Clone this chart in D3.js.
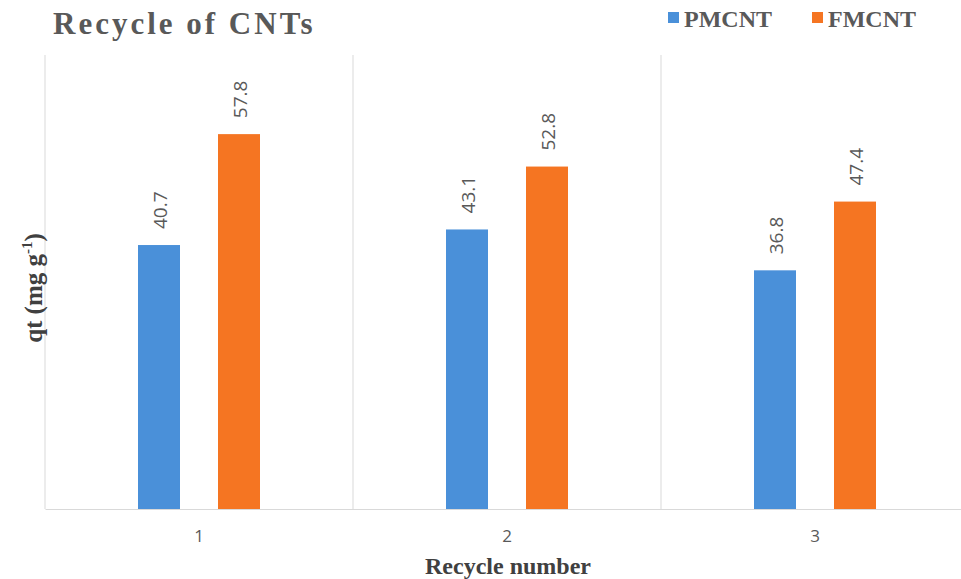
<!DOCTYPE html>
<html><head><meta charset="utf-8">
<script src="https://cdn.jsdelivr.net/npm/d3@7/dist/d3.min.js"></script>
<style>body{margin:0;background:#fff}svg{display:block}</style>
</head><body>
<svg id="c" width="961" height="579"></svg>
<script>
const categories = ["1", "2", "3"];
const seriesNames = ["PMCNT", "FMCNT"];
const pmcnt = [40.7, 43.1, 36.8];
const fmcnt = [57.8, 52.8, 47.4];
const colors = ["#4a90d9", "#f57522"];

(function () {
const svg = d3.select("#c");
const mLeft = 45, mRight = 969, mTop = 55, mBottom = 509;
const x = d3.scaleBand().domain(categories).range([mLeft, mRight]);
const y = d3.scaleLinear().domain([0, 70]).range([mBottom, mTop]);
const series = [pmcnt, fmcnt];
const barW = 42, off = 40;

// vertical grid lines (category boundaries)
const bounds = categories.map(c => x(c)).concat([mRight]);
svg.selectAll("line.grid").data(bounds).enter().append("line")
  .attr("x1", d => d).attr("x2", d => d).attr("y1", mTop).attr("y2", mBottom)
  .attr("stroke", "#d9d9d9").attr("stroke-width", 1);

// bars
series.forEach((vals, si) => {
  const o = si === 0 ? -off : off;
  svg.selectAll("rect.s" + si).data(vals).enter().append("rect")
    .attr("x", (d, i) => x(categories[i]) + x.bandwidth() / 2 + o - barW / 2)
    .attr("y", d => y(d)).attr("width", barW).attr("height", d => y(0) - y(d))
    .attr("fill", colors[si]);
  svg.selectAll("text.l" + si).data(vals).enter().append("text")
    .attr("transform", (d, i) => {
      const cx = x(categories[i]) + x.bandwidth() / 2 + o + 8;
      return `translate(${cx},${y(d) - 16}) rotate(-90)`;
    })
    .attr("font-family", "Open Sans, sans-serif").attr("font-size", 19)
    .attr("fill", "#595959").text(d => d.toFixed(1));
});

// x axis
const xAxis = svg.append("g").attr("transform", `translate(0,${mBottom})`)
  .call(d3.axisBottom(x).tickSize(0).tickPadding(21));
xAxis.select(".domain").attr("stroke", "#d9d9d9");
xAxis.selectAll("text").attr("font-family", "Open Sans, sans-serif")
  .attr("font-size", 17).attr("fill", "#595959");

// titles
svg.append("text").attr("x", 53).attr("y", 34)
  .attr("font-family", "Liberation Serif, serif").attr("font-weight", "bold")
  .attr("font-size", 31).attr("letter-spacing", 3).attr("fill", "#595959")
  .text("Recycle of CNTs");

svg.append("text").attr("x", 508).attr("y", 574).attr("text-anchor", "middle")
  .attr("font-family", "Liberation Serif, serif").attr("font-weight", "bold")
  .attr("font-size", 24).attr("fill", "#404040").text("Recycle number");

const yt = svg.append("text").attr("transform", "translate(42,288) rotate(-90)")
  .attr("text-anchor", "middle")
  .attr("font-family", "Liberation Serif, serif").attr("font-weight", "bold")
  .attr("font-size", 25).attr("fill", "#404040");
yt.append("tspan").text("qt (mg g");
yt.append("tspan").attr("dy", -10).attr("font-size", 15).text("-1");
yt.append("tspan").attr("dy", 10).text(")");

// legend
const lx = [668, 812];
seriesNames.forEach((n, i) => {
  svg.append("rect").attr("x", lx[i]).attr("y", 12).attr("width", 11).attr("height", 11)
    .attr("fill", colors[i]);
  svg.append("text").attr("x", lx[i] + 16).attr("y", 27)
    .attr("font-family", "Liberation Serif, serif").attr("font-weight", "bold")
    .attr("font-size", 24).attr("fill", "#595959").text(n);
});
})();
</script>
</body></html>
